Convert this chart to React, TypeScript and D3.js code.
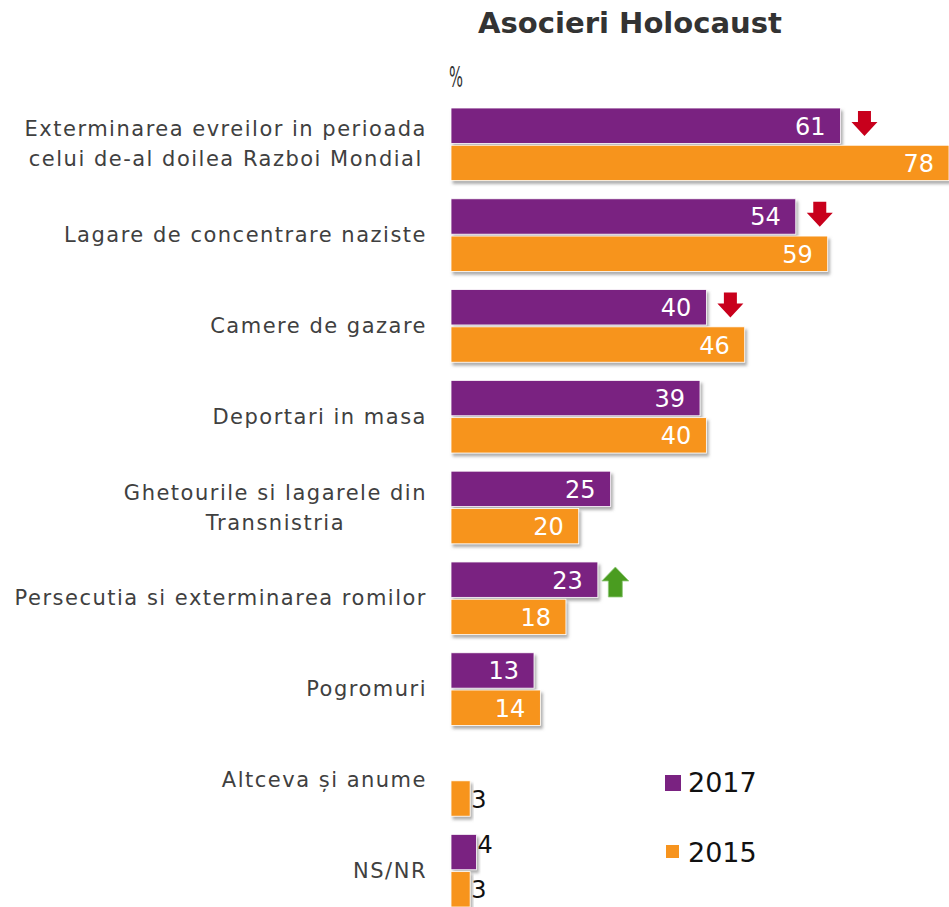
import React, { useEffect, useRef } from 'react';
import * as d3 from 'd3';

const categories = [
  'Exterminarea evreilor in perioada|celui de-al doilea Razboi Mondial',
  'Lagare de concentrare naziste',
  'Camere de gazare',
  'Deportari in masa',
  'Ghetourile si lagarele din|Transnistria',
  'Persecutia si exterminarea romilor',
  'Pogromuri',
  'Altceva și anume',
  'NS/NR',
];
const values2017: (number | null)[] = [61, 54, 40, 39, 25, 23, 13, null, 4];
const values2015: (number | null)[] = [78, 59, 46, 40, 20, 18, 14, 3, 3];
// change 2017 vs 2015 marked with arrows
const trend2017: (string | null)[] = ['down', 'down', 'down', null, null, 'up', null, null, null];
const seriesNames = ['2017', '2015'];

const W = 949;
const H = 907;

export default function App() {
  const ref = useRef<SVGSVGElement>(null);

  useEffect(() => {
    const svg = d3.select(ref.current);
    svg.selectAll('*').remove();

    const color = d3.scaleOrdinal<string>().domain(seriesNames).range(['#7a2281', '#f7941e']);
    const x = d3.scaleLinear().domain([0, 78]).range([451, 949]);
    const y0 = d3.scaleBand().domain(categories).range([108, 907]).paddingInner(0.2).paddingOuter(0);
    const y1 = d3.scaleBand().domain(seriesNames).range([0, y0.bandwidth()]).paddingInner(0.05);

    const defs = svg.append('defs');
    const f = defs.append('filter').attr('id', 'shadow').attr('x', '-5%').attr('y', '-20%').attr('width', '120%').attr('height', '160%');
    f.append('feDropShadow').attr('dx', 2).attr('dy', 3).attr('stdDeviation', 1.5)
      .attr('flood-color', '#777').attr('flood-opacity', 0.6);

    // title
    svg.append('text')
      .attr('x', 630).attr('y', 33)
      .attr('text-anchor', 'middle')
      .attr('font-family', 'DejaVu Sans, Verdana, sans-serif')
      .attr('font-weight', 'bold').attr('font-size', 28)
      .attr('textLength', 304).attr('lengthAdjust', 'spacingAndGlyphs')
      .attr('fill', '#333')
      .text('Asocieri Holocaust');

    svg.append('text')
      .attr('x', 449).attr('y', 87)
      .attr('font-family', 'DejaVu Sans, Verdana, sans-serif')
      .attr('font-size', 28).attr('fill', '#333')
      .attr('textLength', 14).attr('lengthAdjust', 'spacingAndGlyphs')
      .text('%');

    // category labels: block right aligned, lines centered within block
    categories.forEach((c) => {
      const lines = c.split('|');
      const cy = y0(c)! + y0.bandwidth() / 2;
      const g = svg.append('g');
      const texts = lines.map((l, i) =>
        g.append('text')
          .attr('y', cy + (i - (lines.length - 1) / 2) * 30 + 7)
          .attr('font-family', 'DejaVu Sans, Verdana, sans-serif')
          .attr('font-size', 21).attr('fill', '#404040')
          .attr('letter-spacing', 1.5)
          .attr('text-anchor', 'middle')
          .text(l)
      );
      const maxW = d3.max(texts, (t) => (t.node() as SVGTextElement).getComputedTextLength()) || 0;
      texts.forEach((t) => t.attr('x', 427 - maxW / 2));
    });

    const rows = categories.map((c, i) => ({ cat: c, vals: [values2017[i], values2015[i]], trend: trend2017[i] }));

    const grp = svg.selectAll('.grp').data(rows).enter().append('g')
      .attr('transform', (d) => `translate(0,${y0(d.cat)})`);

    const bars = grp.selectAll('.bar')
      .data((d) => d.vals.map((v, j) => ({ key: seriesNames[j], v })).filter((e) => e.v != null))
      .enter().append('g');

    bars.append('rect')
      .attr('x', x(0))
      .attr('y', (d) => y1(d.key)!)
      .attr('width', (d) => x(d.v as number) - x(0))
      .attr('height', y1.bandwidth())
      .attr('fill', (d) => color(d.key))
      .attr('stroke', '#fff').attr('stroke-width', 0.8)
      .attr('filter', 'url(#shadow)');

    bars.append('text')
      .attr('x', (d) => ((d.v as number) < 10 ? x(d.v as number) + 1 : x(d.v as number) - 15))
      .attr('y', (d) => y1(d.key)! + y1.bandwidth() / 2 + 9 - (d.key === '2017' && (d.v as number) < 10 ? 8 : 0))
      .attr('text-anchor', (d) => ((d.v as number) < 10 ? 'start' : 'end'))
      .attr('font-family', 'DejaVu Sans, Verdana, sans-serif')
      .attr('font-size', 24)
      .attr('fill', (d) => ((d.v as number) < 10 ? '#111' : '#fff'))
      .text((d) => d.v as number);

    // trend arrows
    grp.filter((d) => d.trend != null).each(function (d) {
      const g = d3.select(this);
      const top = y1('2017')!;
      const end = x(d.vals[0] as number);
      if (d.trend === 'down') {
        const ax = end + 11;
        const ay = top + 3;
        g.append('path')
          .attr('d', `M${ax + 6.5},${ay} h13 v11 h6.5 l-13,14 l-13,-14 h6.5 z`)
          .attr('fill', '#c8001c');
      } else {
        const ax = end + 4;
        const ay = top + 5;
        g.append('path')
          .attr('d', `M${ax + 13.5},${ay} l13.5,14 h-6.5 v16 h-14 v-16 h-6.5 z`)
          .attr('fill', '#4a9c20').attr('stroke', '#8fc97a').attr('stroke-width', 0.8);
      }
    });

    // legend
    const legend = [
      { key: '2017', sx: 665, sy: 775, s: 16, ty: 792 },
      { key: '2015', sx: 666, sy: 845, s: 13, ty: 862 },
    ];
    legend.forEach((l) => {
      svg.append('rect').attr('x', l.sx).attr('y', l.sy).attr('width', l.s).attr('height', l.s)
        .attr('fill', color(l.key));
      svg.append('text').attr('x', 688).attr('y', l.ty)
        .attr('font-family', 'DejaVu Sans, Verdana, sans-serif')
        .attr('font-size', 27).attr('fill', '#111')
        .text(l.key);
    });
  }, []);

  return (
    <svg ref={ref} width={W} height={H} style={{ position: 'absolute', left: 0, top: 0, background: '#fff' }} />
  );
}
